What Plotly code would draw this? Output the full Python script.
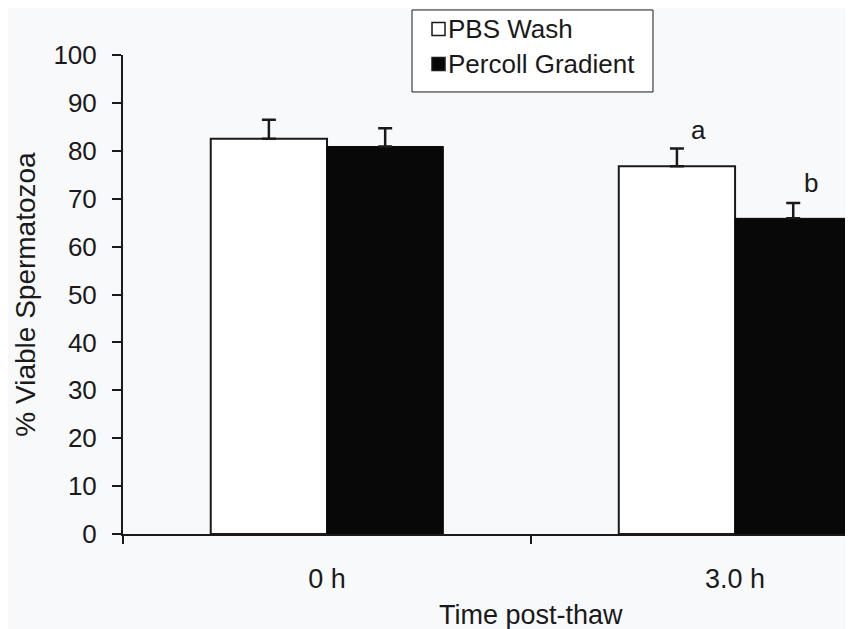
import plotly.graph_objects as go

categories = ["0 h", "3.0 h"]
pbs_wash = [82.5, 76.8]
pbs_err = [4.0, 3.7]
percoll = [80.9, 65.9]
percoll_err = [3.8, 3.2]
sig_letters_pbs = ["", "a"]
sig_letters_percoll = ["", "b"]
y_ticks = [0, 10, 20, 30, 40, 50, 60, 70, 80, 90, 100]
series_names = ["PBS Wash", "Percoll Gradient"]

FONT = "Arial, Liberation Sans, sans-serif"
INK = "#1a1a1a"
BG = "#f8f9fb"

fig = go.Figure()
fig.add_trace(go.Bar(
    name=series_names[0], x=categories, y=pbs_wash,
    marker=dict(color="white", line=dict(color=INK, width=2)),
    error_y=dict(type="data", symmetric=False, array=pbs_err,
                 arrayminus=[0] * len(pbs_err), color=INK, thickness=2.5, width=7),
))
fig.add_trace(go.Bar(
    name=series_names[1], x=categories, y=percoll,
    marker=dict(color="#080808", line=dict(color="#080808", width=1)),
    error_y=dict(type="data", symmetric=False, array=percoll_err,
                 arrayminus=[0] * len(percoll_err), color=INK, thickness=2.5, width=7),
))

# significance letters
bw = 0.284
for i, (lp, lq) in enumerate(zip(sig_letters_pbs, sig_letters_percoll)):
    if lp:
        fig.add_annotation(x=i - bw / 2, y=pbs_wash[i] + pbs_err[i], text=lp,
                           showarrow=False, xshift=21, yshift=1, yanchor="bottom",
                           font=dict(family=FONT, size=26, color=INK))
    if lq:
        fig.add_annotation(x=i + bw / 2, y=percoll[i] + percoll_err[i], text=lq,
                           showarrow=False, xshift=18, yshift=3, yanchor="bottom",
                           font=dict(family=FONT, size=26, color=INK))

# legend box drawn in paper coordinates
fig.add_shape(type="rect", xref="paper", yref="paper",
              x0=0.3959, x1=0.726, y0=0.9228, y1=1.094,
              line=dict(color=INK, width=1), fillcolor="white", layer="above")
legend_rows = [(1.0543, "white"), (0.9812, "#080808")]
for (yc, fill), name in zip(legend_rows, series_names):
    fig.add_shape(type="rect", xref="paper", yref="paper",
                  x0=0.4233, x1=0.4411, y0=yc - 0.0135, y1=yc + 0.0135,
                  line=dict(color=INK, width=1.5), fillcolor=fill, layer="above")
    fig.add_annotation(xref="paper", yref="paper", x=0.4425, y=yc, text=name,
                       showarrow=False, xanchor="left", yanchor="middle",
                       font=dict(family=FONT, size=26, color=INK))

# x-axis title (centred under the full category span)
fig.add_annotation(xref="paper", yref="paper", x=0.559, y=-0.169,
                   text="Time post-thaw", showarrow=False,
                   xanchor="center", yanchor="middle",
                   font=dict(family=FONT, size=27, color=INK))

fig.update_layout(
    width=845, height=621,
    margin=dict(l=115, r=0, t=47, b=95),
    paper_bgcolor=BG, plot_bgcolor=BG,
    barmode="group", bargap=0.43, bargroupgap=0,
    font=dict(family=FONT, color=INK, size=22),
    showlegend=False,
    xaxis=dict(
        type="category", range=[-0.5, 1.289],
        showline=True, linecolor=INK, linewidth=2,
        ticks="outside", tickson="boundaries", ticklen=8, tickcolor=INK, tickwidth=1.5,
        showgrid=False, zeroline=False,
        tickfont=dict(family=FONT, size=27, color=INK),
        ticklabelstandoff=20,
    ),
    yaxis=dict(
        range=[0, 100], tickvals=y_ticks,
        showline=True, linecolor=INK, linewidth=2,
        ticks="outside", ticklen=9, tickcolor=INK, tickwidth=1.5,
        showgrid=False, zeroline=False,
        tickfont=dict(family=FONT, size=26, color=INK),
        ticklabelstandoff=10,
        title=dict(text="% Viable Spermatozoa", font=dict(family=FONT, size=28, color=INK), standoff=10),
    ),
)

fig.write_html("out.html")
